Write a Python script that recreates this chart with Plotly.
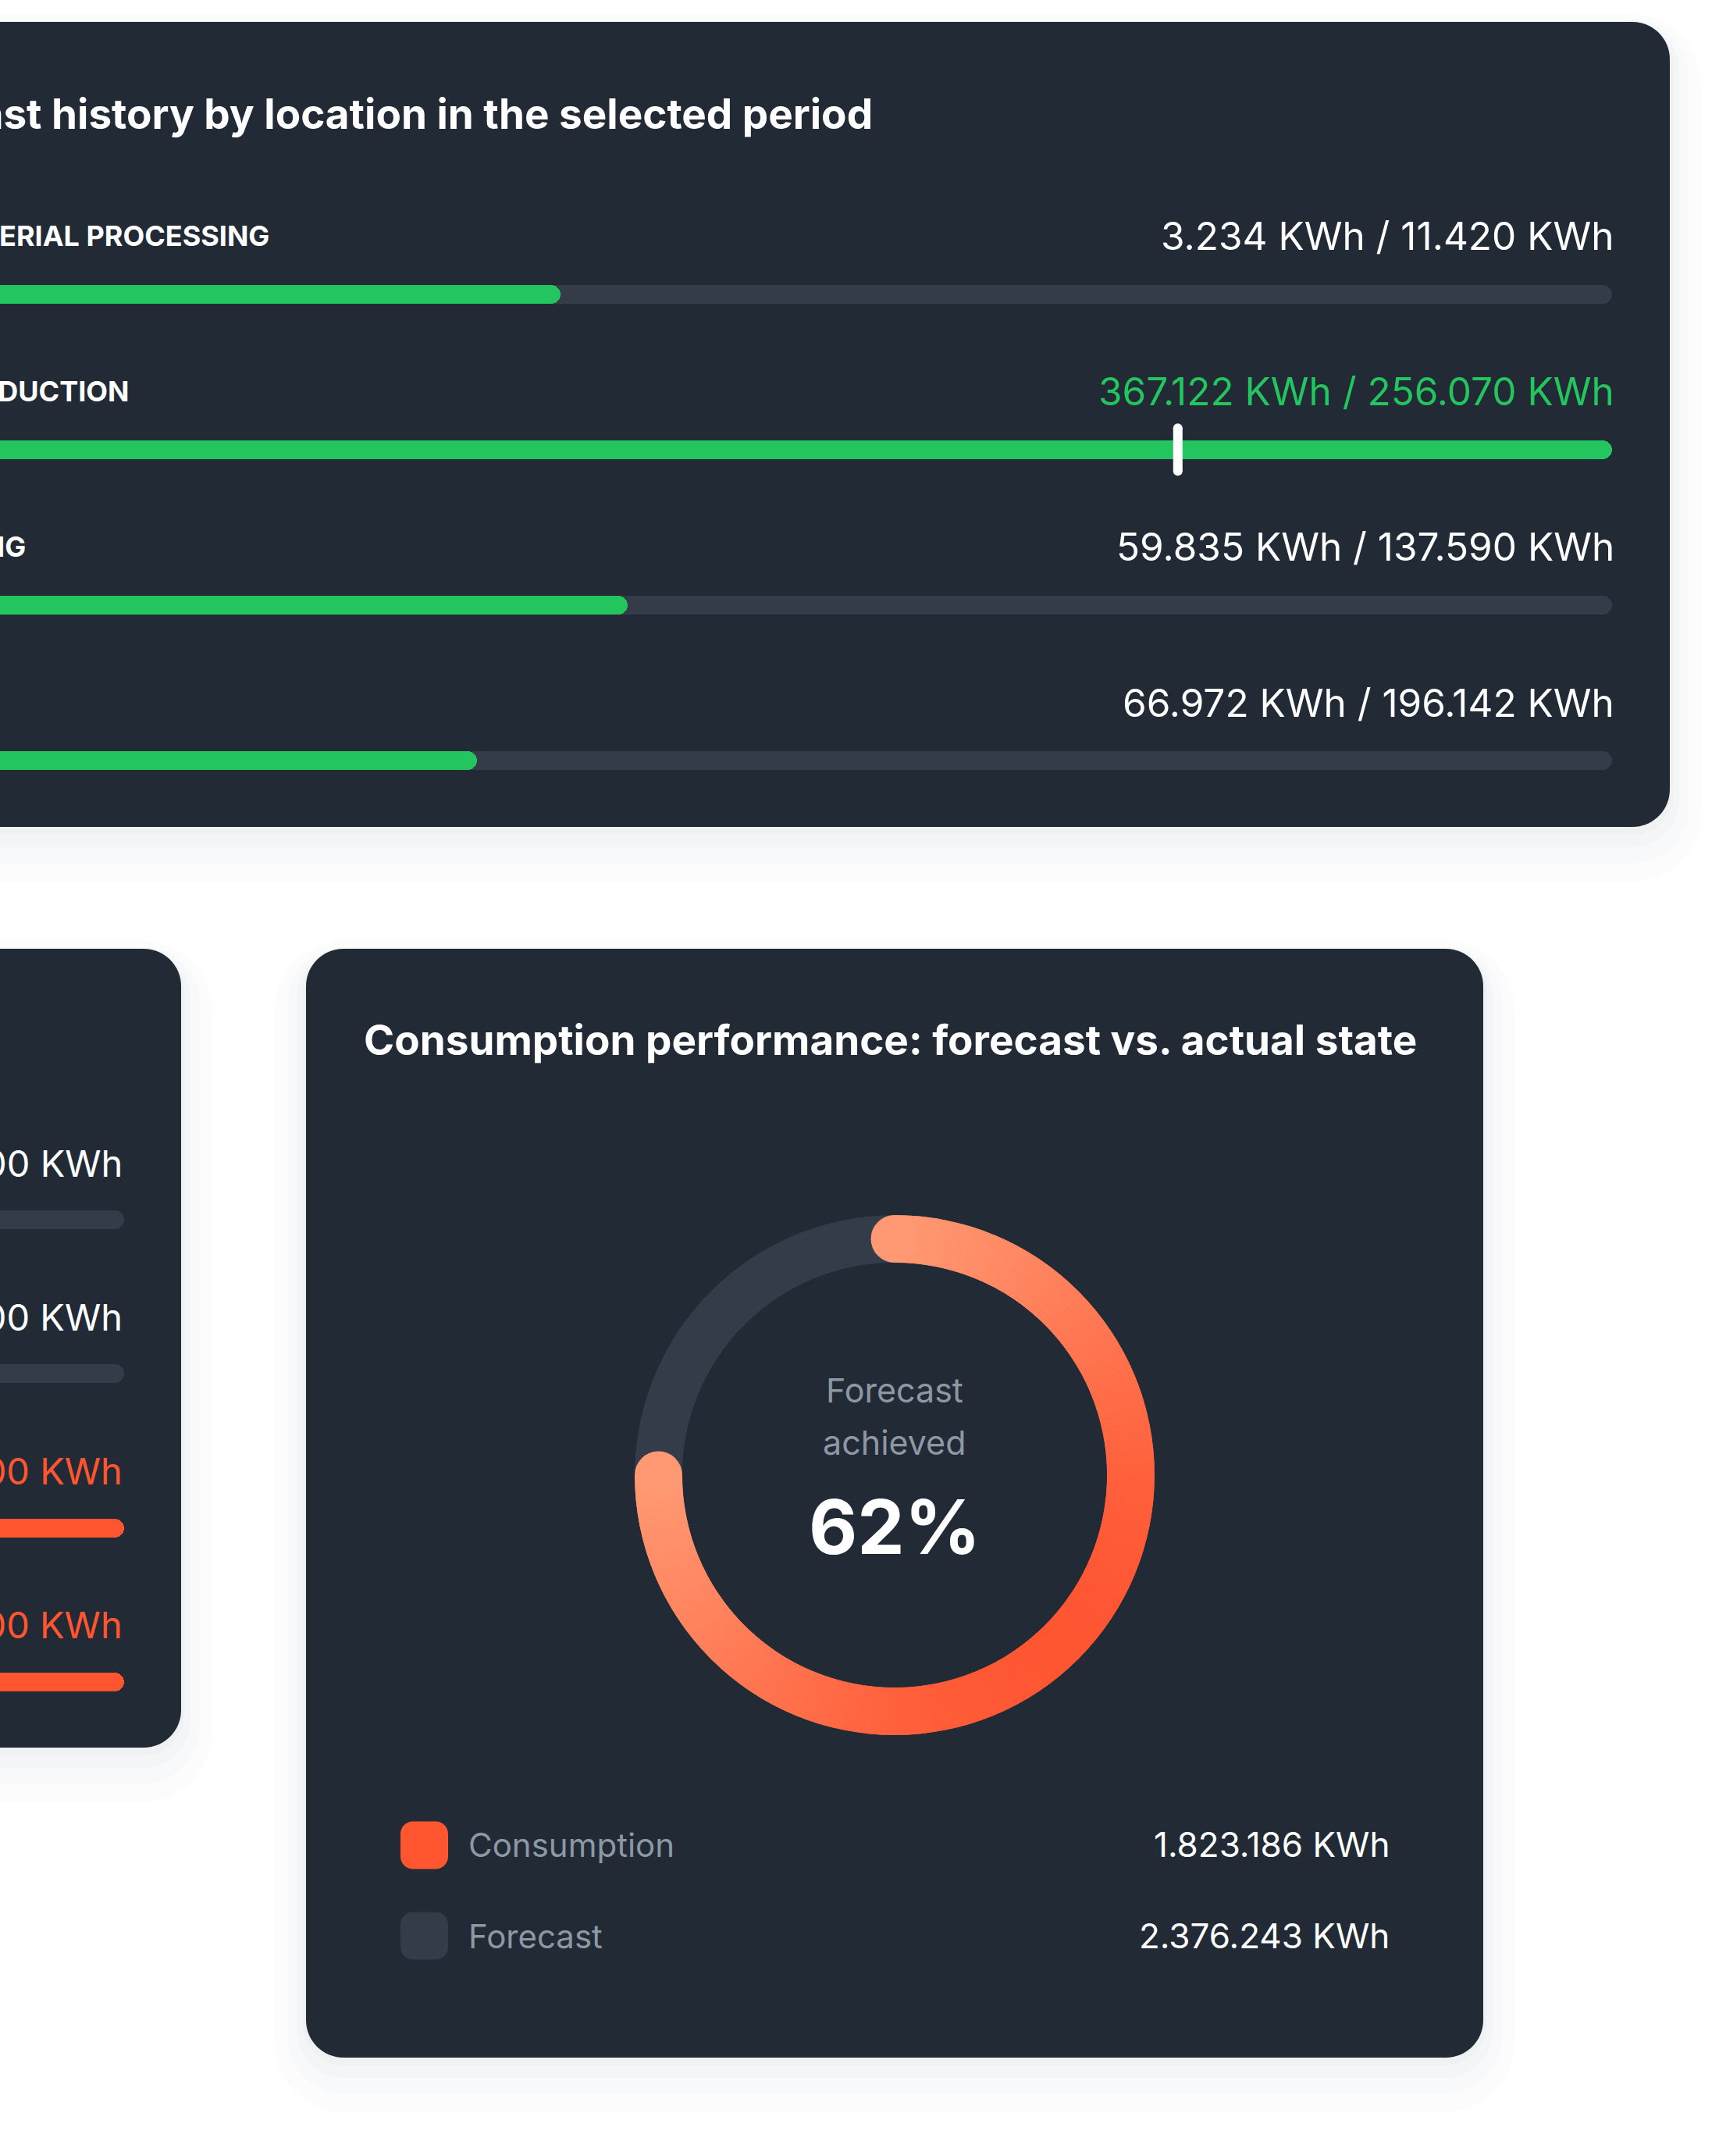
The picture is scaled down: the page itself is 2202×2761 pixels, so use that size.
import plotly.graph_objects as go
import numpy as np

W, H = 2202, 2761

# ---------------- data ----------------
# top card: location consumption vs forecast
top_labels = ["RAW MATERIAL PROCESSING", "MAIN PRODUCTION", "PACKAGING", "OFFICE"]
top_values = ["3.234 KWh / 11.420 KWh", "367.122 KWh / 256.070 KWh",
              "59.835 KWh / 137.590 KWh", "66.972 KWh / 196.142 KWh"]
top_fill = [0.392, 1.0, 0.431, 0.344]          # share of track filled
top_over = [False, True, False, False]          # consumption above forecast
top_marker = 0.749                               # forecast marker on row 2

# bottom-left card (mostly cropped)
left_values = ["1.250 KWh / 5.000 KWh", "2.100 KWh / 8.000 KWh",
               "9.800 KWh / 6.000 KWh", "7.400 KWh / 5.000 KWh"]
left_fill = [0.25, 0.4, 1.0, 1.0]
left_over = [False, False, True, True]

# donut card
consumption_kwh = "1.823.186 KWh"
forecast_kwh = "2.376.243 KWh"
arc_share = 0.75          # share of the ring drawn in orange
achieved_pct = "62%"

# ---------------- style ----------------
CARD = "#212a35"
TRACK = "#333c48"
GREEN = "#22c55e"
ORANGE = "#ff5630"
GRAY_TXT = "#8d98a5"
FONT = "Inter"

def px(x):
    return x / W

def py(y):
    return 1 - y / H

def rrect(x0, y0, x1, y1, r):
    k = 0.5523 * r
    pts = [
        f"M {px(x0 + r)},{py(y0)}",
        f"L {px(x1 - r)},{py(y0)}",
        f"C {px(x1 - r + k)},{py(y0)} {px(x1)},{py(y0 + r - k)} {px(x1)},{py(y0 + r)}",
        f"L {px(x1)},{py(y1 - r)}",
        f"C {px(x1)},{py(y1 - r + k)} {px(x1 - r + k)},{py(y1)} {px(x1 - r)},{py(y1)}",
        f"L {px(x0 + r)},{py(y1)}",
        f"C {px(x0 + r - k)},{py(y1)} {px(x0)},{py(y1 - r + k)} {px(x0)},{py(y1 - r)}",
        f"L {px(x0)},{py(y0 + r)}",
        f"C {px(x0)},{py(y0 + r - k)} {px(x0 + r - k)},{py(y0)} {px(x0 + r)},{py(y0)}",
        "Z",
    ]
    return " ".join(pts)

shapes = []
cards = [(-200, 28, 2139, 1059), (-200, 1215, 232, 2238), (392, 1215, 1900, 2635)]
for (x0, y0, x1, y1) in cards:
    for grow, dy, a in [(40, 30, 0.010), (24, 22, 0.014), (12, 14, 0.018), (4, 6, 0.02)]:
        shapes.append(dict(type="path", path=rrect(x0 - grow, y0 - grow + dy, x1 + grow, y1 + grow + dy, 48 + grow),
                           xref="paper", yref="paper", fillcolor=f"rgba(30,40,60,{a})",
                           line=dict(width=0), layer="below"))
    shapes.append(dict(type="path", path=rrect(x0, y0, x1, y1, 48), xref="paper", yref="paper",
                       fillcolor=CARD, line=dict(width=0), layer="below"))

# legend swatches
for i, col in enumerate([ORANGE, TRACK]):
    cy = 2363 + i * 116
    shapes.append(dict(type="path", path=rrect(513, cy - 30.5, 574, cy + 30.5, 16), xref="paper", yref="paper",
                       fillcolor=col, line=dict(width=0), layer="above"))

fig = go.Figure()

# ---------- top card bars ----------
ROW0, ROWSTEP = 376.5, 199.2
TRACK_START, TRACK_END = -151, 2065
tl = TRACK_END - TRACK_START
x_range1 = [(0 - TRACK_START) / tl, (W - TRACK_START) / tl]
y_range1 = [(H - ROW0) / ROWSTEP, (0 - ROW0) / ROWSTEP]
rows = list(range(len(top_labels)))
bw1 = 24 / ROWSTEP

fig.add_trace(go.Bar(y=rows, x=[1.0] * len(rows), base=0, orientation="h", width=bw1,
                     marker=dict(color=TRACK, cornerradius=12, line=dict(width=0)),
                     xaxis="x", yaxis="y", hoverinfo="skip", showlegend=False))
fig.add_trace(go.Bar(y=rows, x=top_fill, base=0, orientation="h", width=bw1,
                     marker=dict(color=GREEN, cornerradius=12, line=dict(width=0)),
                     xaxis="x", yaxis="y", hoverinfo="skip", showlegend=False))
hm = 27.5 / ROWSTEP
fig.add_trace(go.Scatter(x=[top_marker, top_marker], y=[1 - hm, 1 + hm], mode="lines+markers",
                         line=dict(color="white", width=12),
                         marker=dict(color="white", size=12, line=dict(width=0)),
                         xaxis="x", yaxis="y", hoverinfo="skip", showlegend=False))

# ---------- bottom-left card bars ----------
ROW0b, ROWSTEPb = 1562, 197.3
TS2, TE2 = -1000, 159
tl2 = TE2 - TS2
x_range2 = [(0 - TS2) / tl2, (W - TS2) / tl2]
y_range2 = [(H - ROW0b) / ROWSTEPb, (0 - ROW0b) / ROWSTEPb]
rows2 = list(range(len(left_values)))
bw2 = 24 / ROWSTEPb
fig.add_trace(go.Bar(y=rows2, x=[1.0] * len(rows2), base=0, orientation="h", width=bw2,
                     marker=dict(color=TRACK, cornerradius=12, line=dict(width=0)),
                     xaxis="x2", yaxis="y2", hoverinfo="skip", showlegend=False))
fig.add_trace(go.Bar(y=rows2, x=left_fill, base=0, orientation="h", width=bw2,
                     marker=dict(color=[ORANGE if o else GREEN for o in left_over], cornerradius=12,
                                 line=dict(width=0)),
                     xaxis="x2", yaxis="y2", hoverinfo="skip", showlegend=False))

# ---------- donut (polar) ----------
CX, CY, R = 1146, 1889, 333
light = np.array([255, 165, 126])
dark = np.array([255, 86, 50])

def grad(theta_deg):
    t = np.deg2rad(theta_deg)
    xs, ys = np.sin(t), -np.cos(t)
    f = ((xs + ys) / np.sqrt(2) + 1) / 2
    c = light + (dark - light) * f
    return "rgb(%d,%d,%d)" % tuple(np.round(c).astype(int))

fig.add_trace(go.Barpolar(r=[1], theta=[180], width=[360], base=0,
                          marker=dict(color=TRACK, line=dict(width=0)),
                          subplot="polar", hoverinfo="skip", showlegend=False))
nseg = 240
span = 360 * arc_share
seg_w = span / nseg
thetas = [seg_w * (i + 0.5) for i in range(nseg)]
cols = [grad(t) for t in thetas]
fig.add_trace(go.Barpolar(r=[1] * nseg, theta=thetas, width=[seg_w] * nseg, base=0,
                          marker=dict(color=cols, line=dict(color=cols, width=1)),
                          subplot="polar", hoverinfo="skip", showlegend=False))
fig.add_trace(go.Scatterpolar(r=[0.5, 0.5], theta=[0, span], mode="markers",
                              marker=dict(size=61, color=[grad(0), grad(span)], line=dict(width=0)),
                              subplot="polar", hoverinfo="skip", showlegend=False))

# ---------- annotations ----------
ann = []
def text(x, y, s, size, color, anchor="left", bold=False):
    ann.append(dict(x=px(x), y=py(y), xref="paper", yref="paper", text=s, showarrow=False,
                    xanchor=anchor, yanchor="middle",
                    font=dict(family=FONT, size=size, color=color, weight=700 if bold else 400)))

text(1120, 146, "Forecast history by location in the selected period", 53, "white", "right", True)
label_ends = [347, 168, 35, None]
for i in rows:
    cy = ROW0 + i * ROWSTEP - 74.5
    if label_ends[i] is not None:
        text(label_ends[i], cy, top_labels[i], 36, "white", "right", True)
    else:
        text(TRACK_START, cy, top_labels[i], 36, "white", "left", True)
    text(TRACK_END + 5, cy, top_values[i], 49.5, GREEN if top_over[i] else "white", "right")

for i in rows2:
    cy = ROW0b + i * ROWSTEPb - 73
    text(159, cy, left_values[i], 47, ORANGE if left_over[i] else "white", "right")

text(464, 1332, "Consumption performance: forecast vs. actual state", 53, "white", "left", True)
text(CX, 1780, "Forecast", 43, GRAY_TXT, "center")
text(CX, 1847, "achieved", 43, GRAY_TXT, "center")
text(CX, 1955, achieved_pct, 96, "white", "center", True)
text(598, 2362, "Consumption", 42, GRAY_TXT, "left")
text(1782, 2362, consumption_kwh, 44, "white", "right")
text(598, 2479, "Forecast", 42, GRAY_TXT, "left")
text(1782, 2479, forecast_kwh, 44, "white", "right")

hid = dict(visible=False, showgrid=False, zeroline=False, fixedrange=True)
fig.update_layout(
    width=W, height=H, autosize=False,
    margin=dict(l=0, r=0, t=0, b=0, pad=0),
    paper_bgcolor="white", plot_bgcolor="rgba(0,0,0,0)",
    barmode="overlay", bargap=0,
    xaxis=dict(domain=[0, 1], range=x_range1, anchor="y", **hid),
    yaxis=dict(domain=[0, 1], range=y_range1, anchor="x", **hid),
    xaxis2=dict(domain=[0, 1], range=x_range2, anchor="y2", overlaying="x", **hid),
    yaxis2=dict(domain=[0, 1], range=y_range2, anchor="x2", overlaying="y", **hid),
    polar=dict(
        domain=dict(x=[px(CX - R), px(CX + R)], y=[py(CY + R), py(CY - R)]),
        hole=272 / 333, bgcolor="rgba(0,0,0,0)",
        radialaxis=dict(visible=False, range=[0, 1]),
        angularaxis=dict(visible=False, rotation=90, direction="clockwise", showgrid=False),
    ),
    shapes=shapes, annotations=ann, showlegend=False,
)

fig.write_html("out.html", config=dict(displayModeBar=False))
